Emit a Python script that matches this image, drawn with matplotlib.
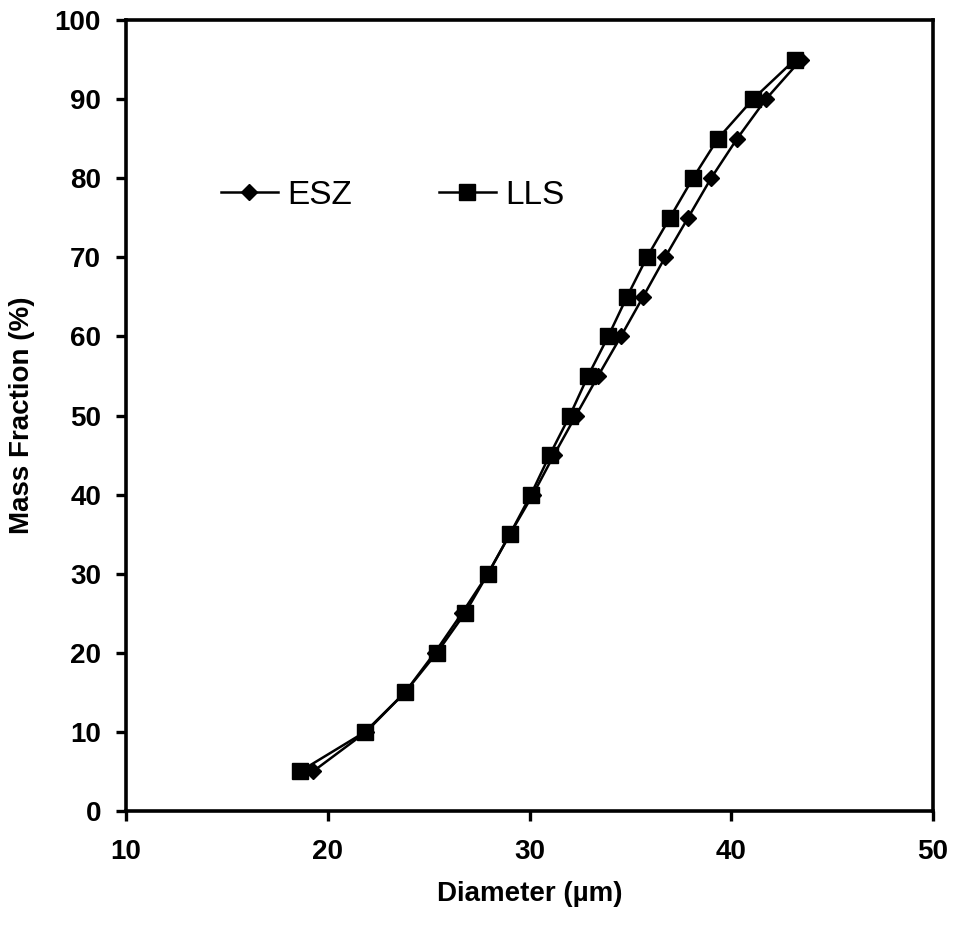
import matplotlib
matplotlib.use("Agg")
import matplotlib.pyplot as plt

plt.rcParams['font.family'] = ['Liberation Sans', 'DejaVu Sans']

mass_fraction = [5, 10, 15, 20, 25, 30, 35, 40, 45, 50, 55, 60, 65, 70, 75, 80, 85, 90, 95]
esz_diameter = [19.27, 21.9, 23.83, 25.3, 26.65, 27.94, 29.03, 30.17, 31.21, 32.3,
                33.4, 34.53, 35.63, 36.72, 37.86, 39.0, 40.29, 41.72, 43.46]
lls_diameter = [18.62, 21.85, 23.83, 25.41, 26.8, 27.94, 29.03, 30.07, 31.0, 32.0,
                32.9, 33.9, 34.83, 35.82, 36.96, 38.1, 39.34, 41.08, 43.16]

fig = plt.figure(figsize=(9.56, 9.26), dpi=100)
ax = fig.add_axes([126/956, 1 - 811/926, (933-126)/956, (811-20)/926])

ax.plot(esz_diameter, mass_fraction, color='black', lw=1.8, marker='D', ms=8.5,
        mfc='black', mec='black', label='ESZ')
ax.plot(lls_diameter, mass_fraction, color='black', lw=1.8, marker='s', ms=12,
        mfc='black', mec='black', label='LLS')

ax.set_xlim(10, 50)
ax.set_ylim(0, 100)
ax.set_xticks(range(10, 51, 10))
ax.set_yticks(range(0, 101, 10))
for s in ax.spines.values():
    s.set_linewidth(2.6)
ax.tick_params(direction='out', length=7, width=2.4, labelsize=20)
ax.tick_params(axis='y', pad=11)
ax.tick_params(axis='x', pad=13)
for lab in ax.get_xticklabels() + ax.get_yticklabels():
    lab.set_fontweight('bold')

ax.set_xlabel('Diameter (µm)', fontsize=20, fontweight='bold', labelpad=12)
ax.set_ylabel('Mass Fraction (%)', fontsize=20, fontweight='bold', labelpad=14)

leg = ax.legend(loc='center left', bbox_to_anchor=(0.1177, 0.778), ncol=2, frameon=False,
                fontsize=24, handlelength=1.7, columnspacing=2.6, handletextpad=0.3,
                borderaxespad=0, borderpad=0)

fig.savefig('out.png', dpi=100)
